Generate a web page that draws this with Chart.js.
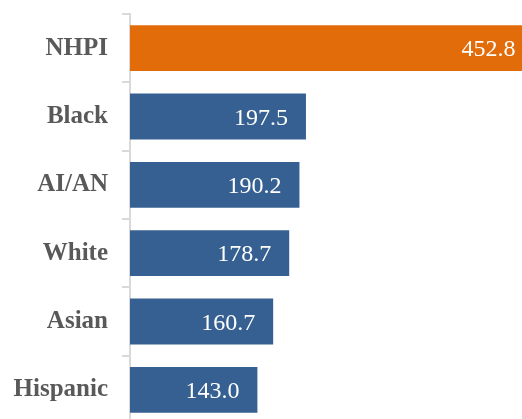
<!DOCTYPE html>
<html>
<head>
<meta charset="utf-8">
<script src="https://cdn.jsdelivr.net/npm/chart.js"></script>
<style>
  html, body { margin: 0; padding: 0; overflow: hidden; background: #fff; }
  #wrap { width: 522px; height: 424px; position: relative; }
</style>
</head>
<body>
<div id="wrap"><canvas id="barchart"></canvas></div>
<script>
const groups = ["NHPI", "Black", "AI/AN", "White", "Asian", "Hispanic"];
const rates = [452.8, 197.5, 190.2, 178.7, 160.7, 143.0];
const barColors = ["#E36C0A", "#376092", "#376092", "#376092", "#376092", "#376092"];

// values drawn inside the bar end, white
const valueLabels = {
  id: "valueLabels",
  afterDatasetsDraw(chart) {
    const ctx = chart.ctx;
    const meta = chart.getDatasetMeta(0);
    const xScale = chart.scales.x;
    ctx.save();
    ctx.font = "24px 'Liberation Serif'";
    ctx.fillStyle = "#ffffff";
    ctx.textAlign = "right";
    ctx.textBaseline = "middle";
    meta.data.forEach((bar, i) => {
      const x = xScale.getPixelForValue(rates[i]) - 18;
      ctx.fillText(rates[i].toFixed(1), x, bar.y + 2);
    });
    ctx.restore();
  },
};

new Chart(document.getElementById("barchart"), {
  type: "bar",
  data: {
    labels: groups,
    datasets: [
      {
        data: rates,
        backgroundColor: barColors,
        barPercentage: 0.67,
        categoryPercentage: 1,
      },
    ],
  },
  options: {
    indexAxis: "y",
    responsive: true,
    maintainAspectRatio: false,
    animation: false,
    layout: { padding: { top: 14, right: 0, bottom: 0, left: 0 } },
    plugins: {
      legend: { display: false },
      tooltip: { enabled: false },
    },
    scales: {
      x: {
        display: false,
        min: 0,
        max: 440,
      },
      y: {
        afterFit(scale) {
          scale.width = 130;
          scale.paddingTop = 0;
          scale.paddingBottom = 0;
        },
        border: { color: "#D9D9D9", width: 2 },
        grid: {
          drawOnChartArea: false,
          drawTicks: true,
          tickLength: 8,
          color: "#D9D9D9",
          lineWidth: 2,
        },
        ticks: {
          padding: 14,
          color: "#595959",
          font: { family: "'Liberation Serif'", size: 25, weight: "bold" },
        },
      },
    },
  },
  plugins: [valueLabels],
});
</script>
</body>
</html>
